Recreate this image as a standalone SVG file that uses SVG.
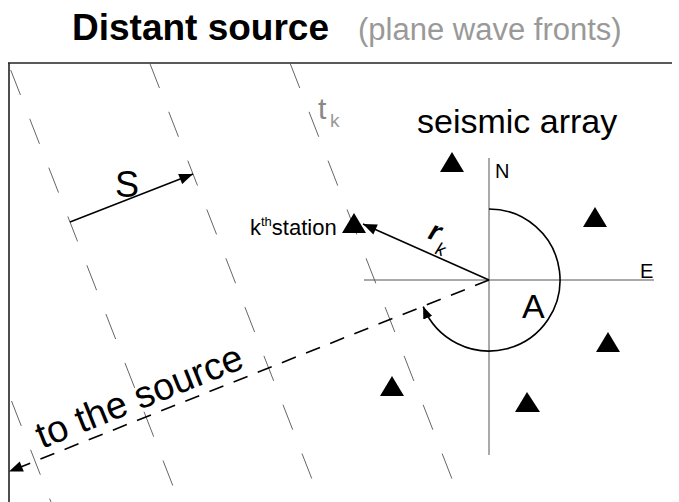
<svg xmlns="http://www.w3.org/2000/svg" width="679" height="502" viewBox="0 0 679 502">
<style>
  text { font-family: "Liberation Sans", Arial, sans-serif; fill: #000; }
  .wave { stroke: #666; stroke-width: 1; fill: none; stroke-dasharray: 26.8 25.6; }
  .axis { stroke: #555; stroke-width: 1; fill: none; }
  .frame { stroke: #222; stroke-width: 1.6; fill: none; }
  .vec { stroke: #000; stroke-width: 1.6; fill: none; }
  .sta { fill: #000; }
</style>
<defs>
  <marker id="arr" viewBox="0 0 10 8" refX="10" refY="4" markerWidth="16" markerHeight="11" markerUnits="userSpaceOnUse" orient="auto">
    <path d="M0,0 L10,4 L0,8 z" fill="#000"/>
  </marker>
  <marker id="arrS" viewBox="0 0 10 8" refX="10" refY="4" markerWidth="12" markerHeight="10" markerUnits="userSpaceOnUse" orient="auto">
    <path d="M0,0 L10,4 L0,8 z" fill="#000"/>
  </marker>
</defs>
<rect x="0" y="0" width="679" height="502" fill="#fff"/>

<g id="title">
  <text x="72" y="40" font-size="37" font-weight="bold">Distant source</text>
  <text x="358" y="40" font-size="31" style="fill:#999">(plane wave fronts)</text>
</g>

<g id="frame">
  <line class="frame" x1="8" y1="63" x2="672" y2="63"/>
  <line class="frame" x1="9" y1="63" x2="9" y2="502"/>
</g>

<g id="wavefronts">
  <line class="wave" x1="11.5" y1="401" x2="51" y2="502"/>
  <line class="wave" x1="10.7" y1="70" x2="179.2" y2="502"/>
  <line class="wave" x1="149.7" y1="63" x2="320.9" y2="502"/>
  <line class="wave" x1="290" y1="63" x2="461" y2="502"/>
  <text x="318" y="119" font-size="30" style="fill:#888">t</text>
  <text x="330" y="127" font-size="19" style="fill:#999">k</text>
</g>

<g id="axes">
  <line class="axis" x1="489" y1="158" x2="489" y2="455"/>
  <line class="axis" x1="364" y1="280" x2="654" y2="280"/>
  <text x="495" y="178" font-size="20">N</text>
  <text x="640" y="278" font-size="20">E</text>
</g>

<g id="label-array">
  <text x="417" y="133" font-size="34">seismic array</text>
</g>

<g id="stations">
  <polygon class="sta" points="452,152 464,172 440,172"/>
  <polygon class="sta" points="595,207 607,227 583,227"/>
  <polygon class="sta" points="354,213 366,233 342,233"/>
  <polygon class="sta" points="608,332 620,352 596,352"/>
  <polygon class="sta" points="392,376 404,396 380,396"/>
  <polygon class="sta" points="527,392 540,412 515,412"/>
</g>

<g id="kth-station">
  <text x="250" y="235" font-size="22">k<tspan font-size="13" dy="-9">th</tspan><tspan dy="9">station</tspan></text>
</g>

<g id="connectors">
  <line class="vec" x1="70" y1="222" x2="193" y2="174" marker-end="url(#arr)"/>
  <line class="vec" x1="489" y1="280" x2="363" y2="224" marker-end="url(#arr)"/>
  <line class="vec" x1="489" y1="280" x2="9" y2="471.6" stroke-dasharray="15 11" marker-end="url(#arr)"/>
  <path class="vec" d="M489,209 A71,71 0 1 1 423.2,306.6" marker-end="url(#arrS)"/>
</g>

<g id="labels">
  <text x="115" y="197" font-size="36">S</text>
  <text x="522" y="318" font-size="34">A</text>
  <g transform="translate(427,238) rotate(20)">
    <text x="0" y="0" font-size="28" font-weight="bold" font-style="italic">r</text>
    <text x="12" y="12" font-size="18" font-style="italic">k</text>
  </g>
  <text transform="translate(42,449) rotate(-21.8)" font-size="38">to the source</text>
</g>
</svg>
